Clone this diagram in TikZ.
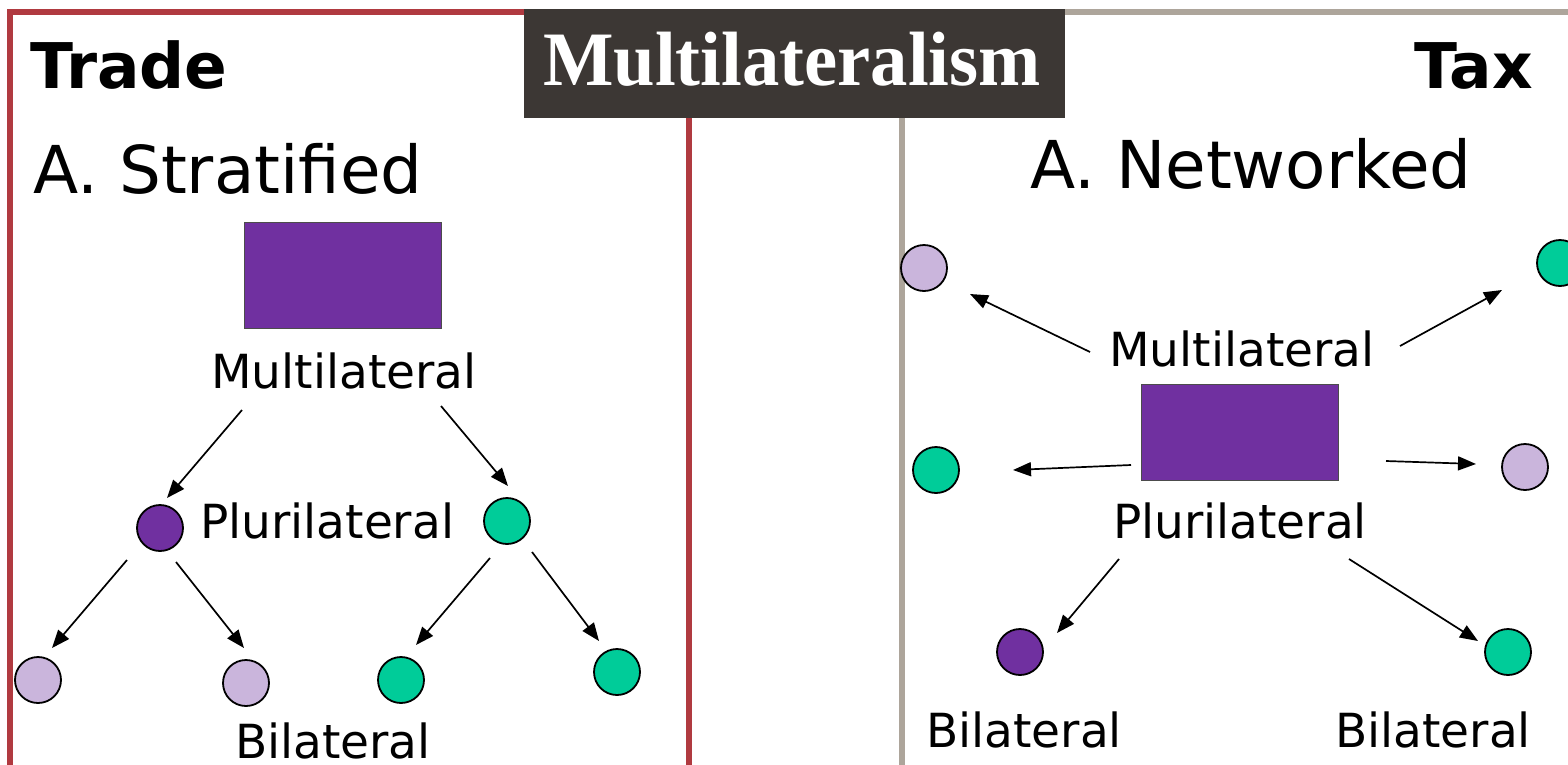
\documentclass[tikz,border=0pt]{standalone}
\usepackage{fontspec}
\setmainfont{DejaVu Sans}
\newfontfamily\titlefont{Liberation Serif}
\usetikzlibrary{arrows.meta}
\definecolor{frameRed}{HTML}{B03A40}
\definecolor{frameGray}{HTML}{ADA59B}
\definecolor{titleBg}{HTML}{3C3734}
\definecolor{purp}{HTML}{7030A0}
\definecolor{grn}{HTML}{00CC99}
\definecolor{lav}{HTML}{CAB5DC}
\tikzset{
  dot/.style={circle, draw=black, line width=1.8pt, minimum size=46pt, inner sep=0pt},
  pdot/.style={dot, fill=purp},
  gdot/.style={dot, fill=grn},
  ldot/.style={dot, fill=lav},
  blockbox/.style={draw=black!70, line width=0.8pt, fill=purp, minimum width=197pt, minimum height=106pt, inner sep=0pt},
  lbl/.style={font=\fontsize{47}{50}\selectfont, inner sep=0pt},
  heading/.style={font=\fontsize{63}{66}\selectfont\bfseries, inner sep=0pt},
  sub/.style={font=\fontsize{66}{70}\selectfont, inner sep=0pt},
  arr/.style={-{Triangle[length=18pt,width=14pt]}, line width=1.7pt},
  frameline/.style={line width=5.5pt},
}
\begin{document}
\begin{tikzpicture}[x=1pt,y=-1pt]
\useasboundingbox (0,0) rectangle (1568,764);
\clip (0,0) rectangle (1568,764);
% frames
\draw[frameline, frameRed] (10,770) -- (10,12) -- (540,12);
\draw[frameline, frameRed] (689,100) -- (689,770);
\draw[frameline, frameGray] (1050,12) -- (1575,12);
\draw[frameline, frameGray] (902,100) -- (902,770);
% title
\node[fill=titleBg, minimum width=541pt, minimum height=109pt, inner sep=0pt, anchor=north west] (title) at (524,9) {};
\node[text=white, font=\fontsize{77}{80}\selectfont\titlefont\bfseries, inner sep=0pt, anchor=base, xscale=0.97] (titletext) at (792,85) {Multilateralism};
% left panel
\node[heading, anchor=base west] (trade) at (30,88) {Trade};
\node[sub, anchor=base west] (strat) at (33,193) {A. Stratified};
\node[blockbox] (lrect) at (342.5,275.5) {};
\node[lbl, anchor=base] (lmulti) at (344,388) {Multilateral};
\node[pdot] (lp1) at (160,528) {};
\node[gdot] (lp2) at (507,521) {};
\node[lbl, anchor=base west] (lpluri) at (200,538) {Plurilateral};
\node[ldot] (lb1) at (38,680) {};
\node[ldot] (lb2) at (246,683) {};
\node[gdot] (lb3) at (401,680) {};
\node[gdot] (lb4) at (617,672) {};
\node[lbl, anchor=base] (lbil) at (333,758) {Bilateral};
\coordinate (la1s) at (242,410);
\coordinate (la2s) at (441,406);
\coordinate (la3s) at (127,560);
\coordinate (la4s) at (176,562);
\coordinate (la5s) at (490,558);
\coordinate (la6s) at (532,552);
\draw[arr] (la1s) -- (167,498) coordinate (la1e);
\draw[arr] (la2s) -- (508,486) coordinate (la2e);
\draw[arr] (la3s) -- (52,648) coordinate (la3e);
\draw[arr] (la4s) -- (244,648) coordinate (la4e);
\draw[arr] (la5s) -- (416,645) coordinate (la5e);
\draw[arr] (la6s) -- (599,641) coordinate (la6e);
% right panel
\node[heading, anchor=base east] (tax) at (1533,88) {Tax};
\node[sub, anchor=base west] (netw) at (1030,188) {A. Networked};
\node[ldot] (rt1) at (924,268) {};
\node[gdot] (rt2) at (1560,263) {};
\node[lbl, anchor=base] (rmulti) at (1242,366) {Multilateral};
\node[blockbox, minimum height=96pt] (rrect) at (1239.5,432.5) {};
\node[gdot] (rm1) at (936,470) {};
\node[ldot] (rm2) at (1525,467) {};
\node[lbl, anchor=base] (rpluri) at (1240,538) {Plurilateral};
\node[pdot] (rb1) at (1020,652) {};
\node[gdot] (rb2) at (1508,652) {};
\node[lbl, anchor=base] (rbil1) at (1024,747) {Bilateral};
\node[lbl, anchor=base] (rbil2) at (1433,747) {Bilateral};
\coordinate (ra1s) at (1090,352);
\coordinate (ra2s) at (1400,346);
\coordinate (ra3s) at (1131,465);
\coordinate (ra4s) at (1386,461);
\coordinate (ra5s) at (1119,559);
\coordinate (ra6s) at (1349,559);
\draw[arr] (ra1s) -- (970,294) coordinate (ra1e);
\draw[arr] (ra2s) -- (1502,290) coordinate (ra2e);
\draw[arr] (ra3s) -- (1013,470) coordinate (ra3e);
\draw[arr] (ra4s) -- (1476,464) coordinate (ra4e);
\draw[arr] (ra5s) -- (1057,633) coordinate (ra5e);
\draw[arr] (ra6s) -- (1478,641) coordinate (ra6e);
\end{tikzpicture}
\end{document}
